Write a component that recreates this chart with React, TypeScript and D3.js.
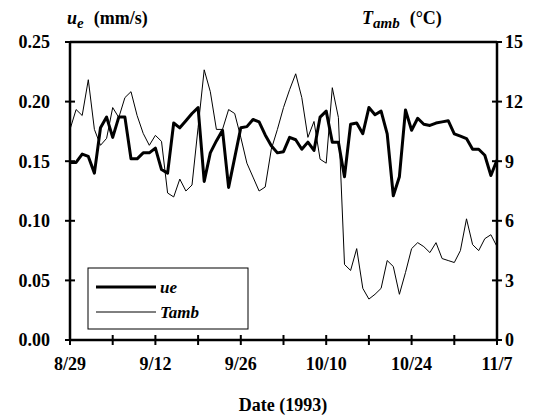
import React from "react";
import * as d3 from "d3";

const START = new Date(1993, 7, 29);
const END = new Date(1993, 10, 7);
const dates: Date[] = d3.timeDay.range(START, d3.timeDay.offset(END, 1));

const ueValues = [
  0.149, 0.149, 0.156, 0.154, 0.140, 0.178, 0.187, 0.170, 0.187, 0.187,
  0.152, 0.152, 0.157, 0.157, 0.161, 0.143, 0.140, 0.182, 0.178, 0.184,
  0.190, 0.195, 0.133, 0.157, 0.167, 0.176, 0.128, 0.153, 0.178, 0.179,
  0.185, 0.183, 0.172, 0.163, 0.157, 0.158, 0.170, 0.168, 0.160, 0.166,
  0.159, 0.187, 0.192, 0.166, 0.166, 0.137, 0.181, 0.182, 0.173, 0.195,
  0.189, 0.192, 0.173, 0.121, 0.137, 0.193, 0.176, 0.186, 0.181, 0.180,
  0.182, 0.183, 0.184, 0.173, 0.171, 0.169, 0.160, 0.160, 0.155, 0.138,
  0.151,
];

const tambValues = [
  10.6, 11.6, 11.3, 13.1, 10.6, 9.8, 10.15, 11.7, 11.2, 12.2,
  12.5, 11.3, 10.4, 9.8, 10.3, 10.0, 7.4, 7.2, 8.1, 7.5,
  7.8, 10.7, 13.6, 12.5, 10.6, 10.6, 11.6, 11.4, 10.2, 8.9,
  8.2, 7.5, 7.7, 9.6, 10.6, 11.7, 12.6, 13.4, 12.2, 10.2,
  11.0, 9.1, 8.9, 12.7, 11.2, 3.8, 3.5, 4.6, 2.6, 2.06,
  2.3, 2.6, 4.0, 3.7, 2.3, 3.4, 4.6, 4.9, 4.7, 4.4,
  4.9, 4.1, 4.0, 3.9, 4.5, 6.1, 4.8, 4.5, 5.1, 5.3,
  4.7,
];

const leftTicks = [0, 0.05, 0.1, 0.15, 0.2, 0.25];
const rightTicks = [0, 3, 6, 9, 12, 15];
const xTickLabels = ["8/29", "9/12", "9/26", "10/10", "10/24", "11/7"];
const xTickDates: Date[] = d3.timeDay.range(START, d3.timeDay.offset(END, 1), 7);
const seriesNames = ["ue", "Tamb"];

const FONT = "'Liberation Serif', 'Times New Roman', serif";

export default function App() {
  const left = 70, right = 497, top = 42, bottom = 340;
  const x = d3.scaleTime().domain([START, END]).range([left, right]);
  const yL = d3.scaleLinear().domain([0, 0.25]).range([bottom, top]);
  const yR = d3.scaleLinear().domain([0, 15]).range([bottom, top]);

  const ueLine = d3.line<number>().x((_, i) => x(dates[i])).y((d) => yL(d));
  const tLine = d3.line<number>().x((_, i) => x(dates[i])).y((d) => yR(d));

  const labelFor = (d: Date) => `${d.getMonth() + 1}/${d.getDate()}`;

  return (
    <svg
      width={537}
      height={419}
      style={{ position: "absolute", left: 0, top: 0, background: "#fff" }}
      fontFamily={FONT}
    >
      <rect x={0} y={0} width={537} height={419} fill="#fff" />
      {/* data */}
      <path d={tLine(tambValues) || ""} fill="none" stroke="#000" strokeWidth={1} strokeLinejoin="round" />
      <path d={ueLine(ueValues) || ""} fill="none" stroke="#000" strokeWidth={3} strokeLinejoin="round" />

      {/* frame */}
      <line x1={left} x2={right} y1={top} y2={top} stroke="#000" strokeWidth={2.5} />
      <line x1={left} x2={left} y1={top} y2={bottom} stroke="#000" strokeWidth={2.5} />
      <line x1={right} x2={right} y1={top} y2={bottom} stroke="#000" strokeWidth={2.5} />
      <line x1={left} x2={right} y1={bottom} y2={bottom} stroke="#000" strokeWidth={2.5} />

      {/* left ticks */}
      {leftTicks.map((t) => (
        <g key={"l" + t}>
          <line x1={left - 5} x2={left + 5} y1={yL(t)} y2={yL(t)} stroke="#000" strokeWidth={2} />
          <text x={left - 20} y={yL(t)} dy="0.35em" textAnchor="end" fontSize={18} fontWeight="bold">
            {t.toFixed(2)}
          </text>
        </g>
      ))}
      {/* right ticks */}
      {rightTicks.map((t) => (
        <g key={"r" + t}>
          <line x1={right - 5} x2={right + 5} y1={yR(t)} y2={yR(t)} stroke="#000" strokeWidth={2} />
          <text x={right + 8} y={yR(t)} dy="0.35em" textAnchor="start" fontSize={18} fontWeight="bold">
            {t}
          </text>
        </g>
      ))}
      {/* x ticks */}
      {xTickDates.map((d) => (
        <line key={d.toISOString()} x1={x(d)} x2={x(d)} y1={bottom - 5} y2={bottom + 5} stroke="#000" strokeWidth={2} />
      ))}
      {xTickDates
        .filter((d) => xTickLabels.includes(labelFor(d)))
        .map((d) => (
          <text key={"t" + d.toISOString()} x={x(d)} y={370} textAnchor="middle" fontSize={18} fontWeight="bold">
            {labelFor(d)}
          </text>
        ))}

      {/* axis titles */}
      <text x={67} y={24} fontSize={18} fontWeight="bold">
        <tspan fontStyle="italic">u</tspan>
        <tspan fontStyle="italic" fontSize={15} dy={4}>e</tspan>
        <tspan dy={-4} dx={10}>(mm/s)</tspan>
      </text>
      <text x={362} y={24} fontSize={18} fontWeight="bold">
        <tspan fontStyle="italic">T</tspan>
        <tspan fontStyle="italic" fontSize={15} dy={4}>amb</tspan>
        <tspan dy={-4} dx={10}>(°C)</tspan>
      </text>
      <text x={283} y={411} textAnchor="middle" fontSize={18} fontWeight="bold">
        Date (1993)
      </text>

      {/* legend */}
      <rect x={88} y={268} width={160} height={61} fill="#fff" stroke="#000" strokeWidth={1} />
      <line x1={96} x2={156} y1={287} y2={287} stroke="#000" strokeWidth={3} />
      <text x={160} y={287} dy="0.35em" fontSize={17} fontWeight="bold" fontStyle="italic">
        {seriesNames[0]}
      </text>
      <line x1={96} x2={156} y1={312} y2={312} stroke="#000" strokeWidth={1} />
      <text x={160} y={312} dy="0.35em" fontSize={17} fontWeight="bold" fontStyle="italic">
        {seriesNames[1]}
      </text>
    </svg>
  );
}
